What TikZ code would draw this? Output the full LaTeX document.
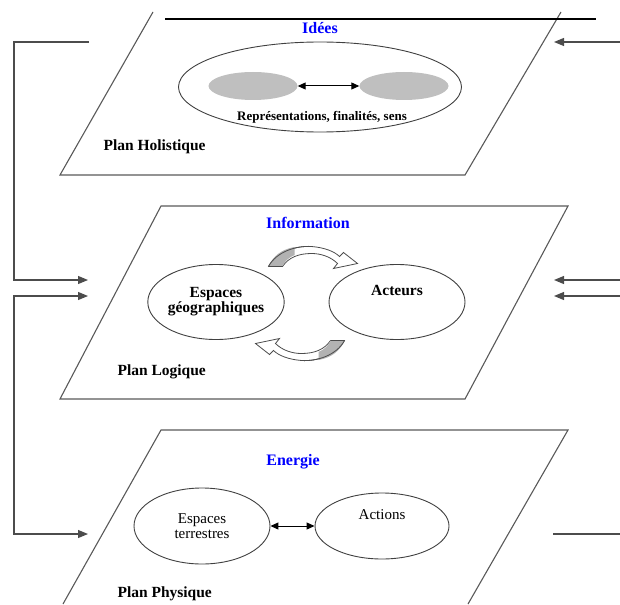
\documentclass[tikz,border=0pt]{standalone}
\usepackage{fontspec}
\setmainfont{Liberation Serif}
\usetikzlibrary{arrows.meta,shapes.geometric}
\begin{document}
\begin{tikzpicture}[x=1pt,y=-1pt,
  plane/.style={draw=black!65,line width=1.1pt},
  conn/.style={draw=black!70,line width=1.1pt},
  tipr/.style={-{Triangle[length=10pt,width=8pt]}},
  tipb/.style={{Triangle[length=10pt,width=8pt]}-{Triangle[length=10pt,width=8pt]}},
  dbl/.style={{Triangle[length=8pt,width=7pt]}-{Triangle[length=8pt,width=7pt]},draw=black,line width=1pt},
  oval/.style={ellipse,draw=black!75,line width=0.9pt,inner sep=0pt,align=center},
  grayoval/.style={ellipse,fill=black!25,inner sep=0pt},
  lbl/.style={font=\bfseries\fontsize{15.5}{17}\selectfont},
  ttl/.style={font=\bfseries\fontsize{16}{18}\selectfont,text=blue},
  reg/.style={font=\fontsize{15}{16}\selectfont},
  band/.style={draw=black!70,line width=0.8pt,fill=white},
  bandgray/.style={fill=black!30},
]
\path[use as bounding box] (0,0) rectangle (620,604);

% ---------- planes ----------
% top (holistic)
\draw[plane] (153,12) -- (60,175) -- (465,175) -- (561,12);
\draw[black,line width=1.6pt] (165,19) -- (596,19);
% middle (logical)
\draw[plane] (161,206) -- (568,206) -- (465,399) -- (60,399) -- cycle;
% bottom (physical)
\draw[plane] (63,604) -- (161,430) -- (568,430) -- (468,604);

% ---------- top plane content ----------
\node[ttl] (idees) at (320,28) {Idées};
\node[oval,minimum width=283pt,minimum height=90pt] (big) at (320,87) {};
\node[grayoval,minimum width=89pt,minimum height=28pt] (g1) at (253,86) {};
\node[grayoval,minimum width=89pt,minimum height=28pt] (g2) at (404,86) {};
\draw[dbl] (g1.east) -- (g2.west);
\node[font=\bfseries\fontsize{13}{14}\selectfont] (rep) at (322,117) {Représentations, finalités, sens};
\node[lbl,anchor=west] (ph) at (100,147) {Plan Holistique};

% ---------- middle plane content ----------
\node[ttl] (info) at (308,223) {Information};
\node[oval,lbl,minimum width=136pt,minimum height=75pt] (eg) at (216,302) {Espaces\\[-2pt]géographiques};
\node[oval,lbl,minimum width=136pt,minimum height=75pt] (act) at (397,302) {Acteurs\\[6pt]};
\node[lbl,anchor=west] (pl) at (114,372) {Plan Logique};

% curved arrows
\begin{scope}[shift={(306.5,303.5)}]
  \draw[band] (-38,-37) .. controls (-30,-52) and (-10,-58) .. (5,-57)
     .. controls (18,-56) and (28,-52) .. (33,-47) -- (37,-51) -- (51,-40) -- (27,-35) -- (31,-40)
     .. controls (24,-47) and (14,-50) .. (5,-50)
     .. controls (-8,-50) and (-18,-46) .. (-24,-37) -- cycle;
  \fill[bandgray] (-38,-37) .. controls (-33,-48) and (-25,-54) .. (-12,-56.5)
     -- (-12,-48.5) .. controls (-18,-46) and (-22,-42) .. (-24,-37) -- cycle;
  \draw[draw=black!70,line width=0.8pt] (-38,-37) .. controls (-30,-52) and (-10,-58) .. (5,-57);
  \draw[draw=black!70,line width=0.8pt] (-24,-37) -- (-38,-37);
\end{scope}
\begin{scope}[shift={(306.5,303.5)},rotate=180]
  \draw[band] (-38,-37) .. controls (-30,-52) and (-10,-58) .. (5,-57)
     .. controls (18,-56) and (28,-52) .. (33,-47) -- (37,-51) -- (51,-40) -- (27,-35) -- (31,-40)
     .. controls (24,-47) and (14,-50) .. (5,-50)
     .. controls (-8,-50) and (-18,-46) .. (-24,-37) -- cycle;
  \fill[bandgray] (-38,-37) .. controls (-33,-48) and (-25,-54) .. (-12,-56.5)
     -- (-12,-48.5) .. controls (-18,-46) and (-22,-42) .. (-24,-37) -- cycle;
  \draw[draw=black!70,line width=0.8pt] (-38,-37) .. controls (-30,-52) and (-10,-58) .. (5,-57);
  \draw[draw=black!70,line width=0.8pt] (-24,-37) -- (-38,-37);
\end{scope}

% ---------- bottom plane content ----------
\node[ttl] (ener) at (293,462) {Energie};
\node[oval,reg,minimum width=136pt,minimum height=76pt] (et) at (202,526) {Espaces\\[-1pt]terrestres};
\node[oval,reg,minimum width=134pt,minimum height=66pt] (ac) at (382,526) {Actions\\[6pt]};
\draw[dbl] (et.east) -- (ac.west);
\node[lbl,anchor=west] (pp) at (114,594) {Plan Physique};

% ---------- side connectors ----------
\coordinate (l1a) at (89,42);
\coordinate (l1b) at (88,280);
\coordinate (l2a) at (88,296);
\coordinate (l2b) at (88,534);
\draw[conn,tipr] (l1a) -- (14,42) -- (14,280) -- (l1b);
\draw[conn,tipb] (l2a) -- (14,296) -- (14,534) -- (l2b);

\coordinate (r1s) at (620,42);  \coordinate (r1e) at (554,42);
\coordinate (r2s) at (620,280); \coordinate (r2e) at (554,280);
\coordinate (r3s) at (620,296); \coordinate (r3e) at (554,296);
\coordinate (r4s) at (620,534); \coordinate (r4e) at (553,534);
\draw[conn,tipr] (r1s) -- (r1e);
\draw[conn,tipr] (r2s) -- (r2e);
\draw[conn,tipr] (r3s) -- (r3e);
\draw[conn] (r4s) -- (r4e);
\end{tikzpicture}
\end{document}
